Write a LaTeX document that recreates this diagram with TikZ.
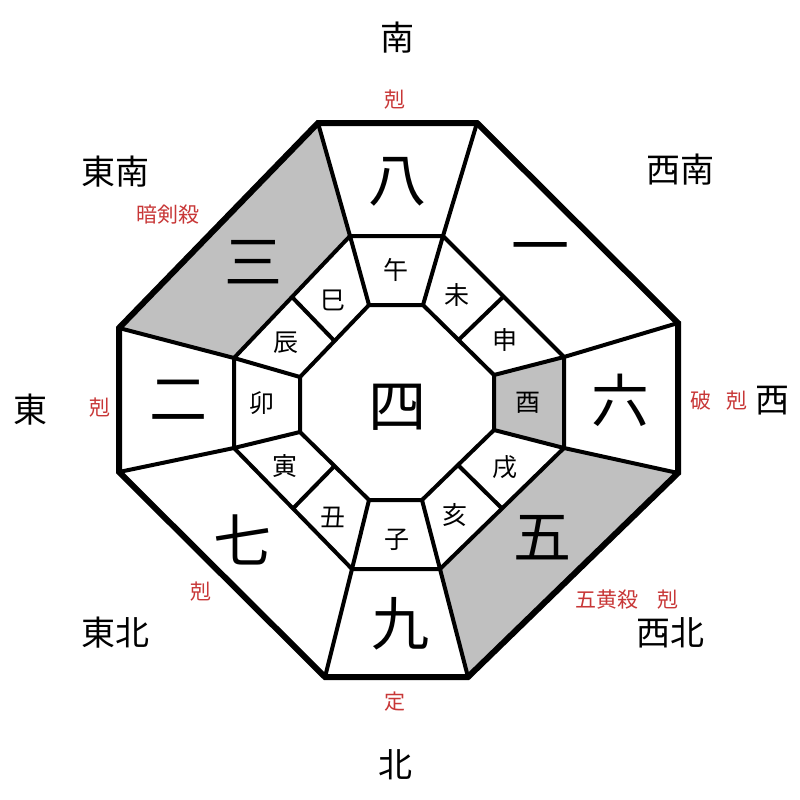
\documentclass[tikz,border=0pt]{standalone}
\usepackage{fontspec}
\usetikzlibrary{calc}
\newfontfamily\jp{Noto Sans CJK JP}
\definecolor{shadegray}{RGB}{192,192,192}
\definecolor{redlab}{RGB}{200,55,55}
\begin{document}
\begin{tikzpicture}[x=1pt,y=-1pt,
  thickline/.style={line width=6pt,line join=miter},
  midline/.style={line width=4pt,line join=miter},
  dirlab/.style={font=\jp\fontsize{34}{34}\selectfont,inner sep=0pt},
  redtxt/.style={font=\jp\fontsize{21}{21}\selectfont,text=redlab,inner sep=0pt},
  numlab/.style={font=\jp\fontsize{58}{58}\selectfont,inner sep=0pt},
  branch/.style={font=\jp\fontsize{25}{25}\selectfont,inner sep=0pt}]
\useasboundingbox (0,0) rectangle (800,800);
\fill[white] (0,0) rectangle (800,800);
% outer
\coordinate (O1) at (318,123); \coordinate (O2) at (477,123);
\coordinate (O3) at (678,323); \coordinate (O4) at (678,473);
\coordinate (O5) at (468,677); \coordinate (O6) at (325,677);
\coordinate (O7) at (119,472); \coordinate (O8) at (119,328);
% middle
\coordinate (M1) at (350,236); \coordinate (M2) at (443,236);
\coordinate (M3) at (564,357); \coordinate (M4) at (564,448);
\coordinate (M5) at (440,569); \coordinate (M6) at (352,569);
\coordinate (M7) at (234,448); \coordinate (M8) at (234,358);
% inner
\coordinate (I1) at (369,305); \coordinate (I2) at (423,305);
\coordinate (I3) at (494,375); \coordinate (I4) at (494,430);
\coordinate (I5) at (422,500); \coordinate (I6) at (369,500);
\coordinate (I7) at (300,432); \coordinate (I8) at (300,377);
% shading
\fill[shadegray] (O8) -- (O1) -- (M1) -- (M8) -- cycle;
\fill[shadegray] (O4) -- (O5) -- (M5) -- (M4) -- cycle;
\fill[shadegray] (M3) -- (M4) -- (I4) -- (I3) -- cycle;
% lines
\draw[midline] (M1) -- (M2) -- (M3) -- (M4) -- (M5) -- (M6) -- (M7) -- (M8) -- cycle;
\draw[midline] (I1) -- (I2) -- (I3) -- (I4) -- (I5) -- (I6) -- (I7) -- (I8) -- cycle;
\foreach \i in {1,...,8} {
  \draw[midline] (O\i) -- (M\i) -- (I\i);
}
\draw[midline] ($(M1)!0.5!(M8)$) -- ($(I1)!0.5!(I8)$);
\draw[midline] ($(M2)!0.5!(M3)$) -- ($(I2)!0.5!(I3)$);
\draw[midline] ($(M4)!0.5!(M5)$) -- ($(I4)!0.5!(I5)$);
\draw[midline] ($(M6)!0.5!(M7)$) -- ($(I6)!0.5!(I7)$);
\draw[thickline] (O1) -- (O2) -- (O3) -- (O4) -- (O5) -- (O6) -- (O7) -- (O8) -- cycle;
% numbers
\node[numlab] (n4) at (397,407) {四};
\node[numlab] (n8) at (397,182) {八};
\node[numlab] (n1) at (540,255) {一};
\node[numlab] (n6) at (620,400) {六};
\node[numlab] (n5) at (542,538) {五};
\node[numlab] (n9) at (400,624) {九};
\node[numlab] (n7) at (242,540) {七};
\node[numlab] (n2) at (178,400) {二};
\node[numlab] (n3) at (253,262) {三};
% branches
\node[branch] (b1) at (396,270) {午};
\node[branch] (b2) at (457,295) {未};
\node[branch] (b3) at (505,340) {申};
\node[branch] (b4) at (528,403) {酉};
\node[branch] (b5) at (505,467) {戌};
\node[branch] (b6) at (455,515) {亥};
\node[branch] (b7) at (397,540) {子};
\node[branch] (b8) at (333,517) {丑};
\node[branch] (b9) at (285,466) {寅};
\node[branch] (b10) at (262,403) {卯};
\node[branch] (b11) at (286,343) {辰};
\node[branch] (b12) at (333,300) {巳};
% directions
\node[dirlab] (dS) at (397,38) {南};
\node[dirlab] (dSE) at (115,172) {東南};
\node[dirlab] (dSW) at (680,170) {西南};
\node[dirlab] (dE) at (30,410) {東};
\node[dirlab] (dW) at (772,401) {西};
\node[dirlab] (dNE) at (115,633) {東北};
\node[dirlab] (dNW) at (670,633) {西北};
\node[dirlab] (dN) at (395,765) {北};
% red labels
\node[redtxt] (r1) at (395,100) {剋};
\node[redtxt] (r2) at (168,215) {暗剣殺};
\node[redtxt] (r3) at (100,408) {剋};
\node[redtxt] (r4) at (701,401) {破};
\node[redtxt] (r5) at (737,401) {剋};
\node[redtxt] (r6) at (201,592) {剋};
\node[redtxt] (r7) at (607,600) {五黄殺};
\node[redtxt] (r8) at (668,600) {剋};
\node[redtxt] (r9) at (395,702) {定};
\end{tikzpicture}
\end{document}
